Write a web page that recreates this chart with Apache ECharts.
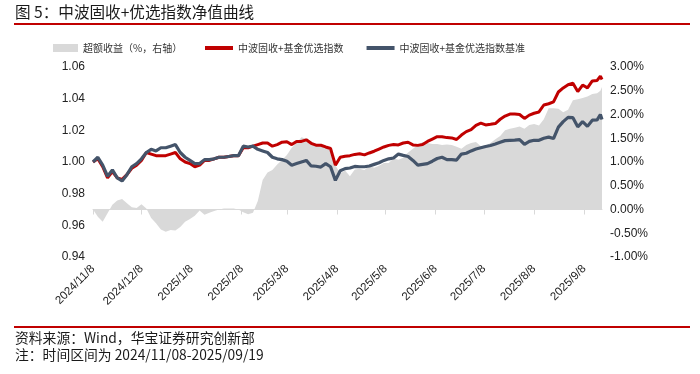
<!DOCTYPE html>
<html>
<head>
<meta charset="utf-8">
<script src="https://cdn.jsdelivr.net/npm/echarts@6/dist/echarts.min.js"></script>
<style>
html,body{margin:0;padding:0;background:#fff;}
#c{width:700px;height:374px;}
</style>
</head>
<body>
<div id="c"></div>
<script>
const titleText = '图 5：中波固收+优选指数净值曲线';
const sourceText = '资料来源：Wind，华宝证券研究创新部';
const noteText = '注：时间区间为 2024/11/08-2025/09/19';
const seriesNames = ['超额收益（%，右轴）', '中波固收+基金优选指数', '中波固收+基金优选指数基准'];
const startDate = '2024-11-08';
const endDate = '2025-09-19';

const dates = ['2024-11-08','2024-11-11','2024-11-14','2024-11-17','2024-11-20','2024-11-23','2024-11-26','2024-11-29','2024-12-02','2024-12-05',
'2024-12-08','2024-12-11','2024-12-14','2024-12-17','2024-12-20','2024-12-23','2024-12-26','2024-12-29','2025-01-01','2025-01-04',
'2025-01-07','2025-01-10','2025-01-13','2025-01-16','2025-01-19','2025-01-22','2025-01-25','2025-01-28','2025-01-31','2025-02-03',
'2025-02-06','2025-02-09','2025-02-12','2025-02-15','2025-02-18','2025-02-21','2025-02-24','2025-02-27','2025-03-02','2025-03-05',
'2025-03-08','2025-03-11','2025-03-14','2025-03-17','2025-03-20','2025-03-23','2025-03-26','2025-03-29','2025-04-01','2025-04-04',
'2025-04-07','2025-04-10','2025-04-13','2025-04-16','2025-04-19','2025-04-22','2025-04-25','2025-04-28','2025-05-01','2025-05-04',
'2025-05-07','2025-05-10','2025-05-13','2025-05-16','2025-05-19','2025-05-22','2025-05-25','2025-05-28','2025-05-31','2025-06-03',
'2025-06-06','2025-06-09','2025-06-12','2025-06-15','2025-06-18','2025-06-21','2025-06-24','2025-06-27','2025-06-30','2025-07-03',
'2025-07-06','2025-07-09','2025-07-12','2025-07-15','2025-07-18','2025-07-21','2025-07-24','2025-07-27','2025-07-30','2025-08-02',
'2025-08-05','2025-08-08','2025-08-11','2025-08-14','2025-08-17','2025-08-20','2025-08-23','2025-08-26','2025-08-29','2025-09-01',
'2025-09-04','2025-09-07','2025-09-10','2025-09-13','2025-09-16','2025-09-18','2025-09-19'];

const fundIndex = [1.000,1.002,0.997,0.990,0.994,0.990,0.989,0.992,0.996,0.998,
1.001,1.006,1.005,1.004,1.004,1.004,1.005,1.006,1.002,1.000,
0.999,0.997,0.998,1.001,1.001,1.002,1.003,1.003,1.0035,1.004,
1.004,1.009,1.009,1.010,1.011,1.012,1.012,1.010,1.011,1.0125,
1.0128,1.011,1.013,1.013,1.014,1.0118,1.0106,1.0106,1.0095,1.0085,
0.998,1.003,1.0036,1.004,1.0048,1.0052,1.0045,1.0057,1.0068,1.0082,
1.0095,1.0105,1.011,1.0108,1.012,1.0125,1.0108,1.0105,1.011,1.013,
1.0145,1.016,1.016,1.0154,1.0152,1.0142,1.017,1.0192,1.0205,1.0232,
1.0246,1.0234,1.0238,1.0243,1.027,1.029,1.0303,1.0303,1.030,1.0275,
1.0296,1.0308,1.0316,1.036,1.0368,1.038,1.0442,1.0468,1.0488,1.0497,
1.0445,1.0486,1.0468,1.0512,1.0515,1.0542,1.0521];

const benchIndex = [1.000,1.003,0.998,0.991,0.995,0.990,0.988,0.992,0.997,0.999,
1.002,1.006,1.008,1.007,1.009,1.009,1.010,1.011,1.006,1.003,
1.001,0.999,0.999,1.0015,1.0015,1.002,1.003,1.003,1.0035,1.004,
1.004,1.010,1.0095,1.010,1.008,1.007,1.006,1.003,1.002,1.0015,
1.0005,0.998,0.999,1.000,1.001,0.9975,0.9973,0.9968,0.999,0.997,
0.9884,0.9945,0.9958,0.9962,0.9972,0.997,0.997,0.9975,0.9985,0.9995,
1.001,1.002,1.0025,1.005,1.0042,1.0035,1.001,0.998,0.9985,0.999,
1.0005,1.0022,1.003,1.0015,1.0015,1.0012,1.005,1.0055,1.007,1.0082,
1.009,1.0098,1.0104,1.0114,1.0125,1.0135,1.0137,1.0138,1.0141,1.0112,
1.013,1.0137,1.0137,1.015,1.0157,1.0148,1.022,1.0255,1.0282,1.028,
1.0222,1.0255,1.0225,1.0264,1.0266,1.030,1.0268];

const excessReturn = [0,-0.15,-0.26,-0.08,0.10,0.19,0.22,0.13,0.05,0.03,
0.11,0.02,-0.18,-0.29,-0.42,-0.47,-0.43,-0.44,-0.37,-0.26,
-0.20,-0.13,-0.02,-0.11,-0.07,-0.03,0.00,0.02,0.02,0.02,
0.00,-0.06,-0.10,-0.07,0.18,0.62,0.78,0.83,0.95,1.04,
1.15,1.30,1.40,1.52,1.49,1.43,1.38,1.37,1.33,1.22,
0.93,0.76,0.82,0.70,0.84,0.86,0.83,0.92,0.88,0.92,
0.98,0.98,1.08,1.05,1.09,1.20,1.28,1.36,1.42,1.40,
1.38,1.38,1.36,1.37,1.36,1.32,1.28,1.36,1.40,1.42,
1.33,1.35,1.40,1.48,1.55,1.67,1.70,1.72,1.75,1.70,
1.78,1.80,1.77,1.90,2.13,2.13,2.12,2.05,2.10,2.30,
2.32,2.35,2.38,2.43,2.45,2.50,2.58];

function toLabel(iso){
  const p = iso.split('-');
  return p[0] + '/' + parseInt(p[1],10) + '/' + parseInt(p[2],10);
}
// calendar-day categories for a date-proportional axis
const categories = [];
(function(){
  const s = new Date(startDate + 'T00:00:00Z').getTime();
  const e = new Date(endDate + 'T00:00:00Z').getTime();
  for (let t = s; t <= e; t += 86400000) {
    const d = new Date(t);
    categories.push(d.getUTCFullYear() + '/' + (d.getUTCMonth()+1) + '/' + d.getUTCDate());
  }
})();
const pair = arr => dates.map((d,i) => [toLabel(d), arr[i]]);
const isEighth = (idx, val) => /\/8$/.test(val);

const CJK = '"Noto Sans CJK SC", "Noto Sans", sans-serif';
const LAT = '"Liberation Sans", Arial, sans-serif';

const chart = echarts.init(document.getElementById('c'), null, {renderer:'canvas'});
chart.setOption({
  animation: false,
  backgroundColor: '#fff',
  grid: {left: 93, right: 98, top: 67, bottom: 117, containLabel: false},
  legend: [
    {left: 53, top: 43, padding: 0, itemWidth: 25, itemHeight: 8, icon: 'rect', itemGap: 10,
     textStyle: {fontFamily: CJK, fontSize: 10, color: '#333'}, data: [seriesNames[0]]},
    {left: 205, top: 43, padding: 0, itemWidth: 28, itemHeight: 4, icon: 'rect', itemGap: 23,
     textStyle: {fontFamily: CJK, fontSize: 10, color: '#333'}, data: [seriesNames[1], seriesNames[2]]}
  ],
  xAxis: {
    type: 'category', data: categories, boundaryGap: false,
    axisLine: {show: true, lineStyle: {color: '#D9D9D9', width: 1}},
    axisTick: {show: true, interval: isEighth, length: 5, lineStyle: {color: '#D9D9D9'}},
    axisLabel: {interval: isEighth, rotate: 45, fontSize: 11.5, fontFamily: LAT, color: '#222', margin: 10, hideOverlap: false},
    splitLine: {show: false}
  },
  yAxis: [
    {type: 'value', min: 0.94, max: 1.06, interval: 0.02,
     axisLine: {show: false}, axisTick: {show: false}, splitLine: {show: false},
     axisLabel: {formatter: v => v.toFixed(2), fontSize: 12, fontFamily: LAT, color: '#222', margin: 8}},
    {type: 'value', min: -1, max: 3, interval: 0.5, position: 'right',
     axisLine: {show: false}, axisTick: {show: false}, splitLine: {show: false},
     axisLabel: {formatter: v => v.toFixed(2) + '%', fontSize: 12, fontFamily: LAT, color: '#222', margin: 8}}
  ],
  series: [
    {name: seriesNames[0], type: 'line', yAxisIndex: 1, data: pair(excessReturn), symbol: 'none',
     color: '#D9D9D9', lineStyle: {width: 0}, areaStyle: {color: '#D9D9D9', opacity: 1}, z: 1},
    {name: seriesNames[1], type: 'line', yAxisIndex: 0, data: pair(fundIndex), symbol: 'none',
     color: '#C00000', lineStyle: {width: 3, color: '#C00000'}, z: 2},
    {name: seriesNames[2], type: 'line', yAxisIndex: 0, data: pair(benchIndex), symbol: 'none',
     color: '#44546A', lineStyle: {width: 3.2, color: '#44546A'}, z: 3}
  ],
  graphic: [
    {type: 'text', left: 15, top: 4, style: {text: titleText, font: '15.6px ' + CJK, fill: '#1a1a1a'}},
    {type: 'line', shape: {x1: 14, y1: 24, x2: 690, y2: 24}, style: {stroke: '#C00000', lineWidth: 2}},
    {type: 'line', shape: {x1: 14, y1: 327, x2: 690, y2: 327}, style: {stroke: '#C00000', lineWidth: 2}},
    {type: 'text', left: 15, top: 331, style: {text: sourceText, font: '13.8px ' + CJK, fill: '#1a1a1a'}},
    {type: 'text', left: 15, top: 348, style: {text: noteText, font: '13.8px ' + CJK, fill: '#1a1a1a'}}
  ]
});
</script>
</body>
</html>
